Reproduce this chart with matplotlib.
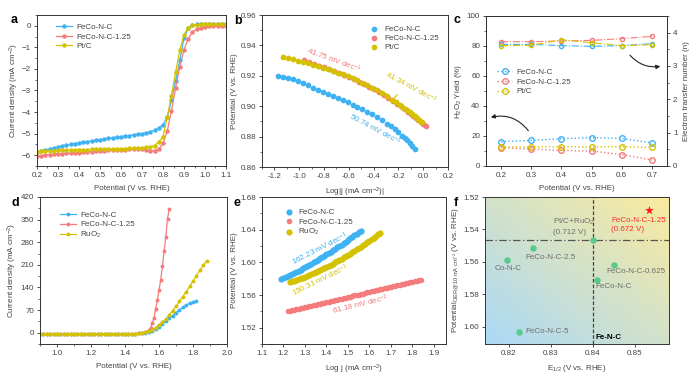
import numpy as np
import matplotlib
matplotlib.use("Agg")
import matplotlib.pyplot as plt
from matplotlib.patches import FancyArrowPatch
from matplotlib.ticker import MultipleLocator

plt.rcParams['font.family'] = ['Liberation Sans', 'DejaVu Sans']
FS = 5.8
plt.rcParams['font.size'] = FS
plt.rcParams['axes.linewidth'] = 0.7
plt.rcParams['mathtext.default'] = 'regular'

C_BLUE = '#3fb2f2'
C_RED = '#f47c7c'
C_YEL = '#d4c200'
C_LAB = '#444444'

# ---------------- panel a : ORR LSV ----------------
a_x = [0.20, 0.22, 0.24, 0.26, 0.28, 0.30, 0.32, 0.34, 0.36, 0.38, 0.40, 0.42, 0.44, 0.46, 0.48,
       0.50, 0.52, 0.54, 0.56, 0.58, 0.60, 0.62, 0.64, 0.66, 0.68, 0.70, 0.72, 0.74, 0.76, 0.78,
       0.80, 0.82, 0.84, 0.86, 0.88, 0.90, 0.92, 0.94, 0.96, 0.98, 1.00, 1.02, 1.04, 1.06, 1.08, 1.10]
a_feco = [-5.85, -5.80, -5.76, -5.72, -5.67, -5.62, -5.58, -5.54, -5.50, -5.46, -5.43, -5.40, -5.37, -5.34, -5.31,
          -5.28, -5.25, -5.22, -5.19, -5.17, -5.14, -5.12, -5.09, -5.06, -5.03, -5.00, -4.96, -4.91, -4.84, -4.74,
          -4.58, -4.25, -3.45, -2.55, -1.60, -0.55, -0.12, 0.02, 0.06, 0.08, 0.09, 0.10, 0.10, 0.10, 0.10, 0.10]
a_feco125 = [-6.05, -6.02, -6.00, -5.98, -5.96, -5.95, -5.93, -5.92, -5.90, -5.89, -5.88, -5.86, -5.85, -5.83, -5.82,
             -5.80, -5.79, -5.78, -5.77, -5.76, -5.75, -5.74, -5.73, -5.72, -5.71, -5.71, -5.74, -5.79, -5.80, -5.72,
             -5.45, -4.90, -3.95, -2.90, -1.90, -1.10, -0.60, -0.30, -0.16, -0.09, -0.05, -0.03, -0.02, -0.01, 0.00, 0.00]
a_ptc = [-5.83, -5.82, -5.81, -5.80, -5.79, -5.78, -5.77, -5.77, -5.76, -5.76, -5.75, -5.74, -5.74, -5.73, -5.73,
         -5.72, -5.72, -5.71, -5.71, -5.70, -5.70, -5.69, -5.68, -5.67, -5.66, -5.65, -5.64, -5.61, -5.55, -5.38,
         -5.15, -4.25, -3.25, -2.15, -1.13, -0.42, -0.08, 0.02, 0.05, 0.06, 0.06, 0.07, 0.07, 0.07, 0.07, 0.07]

# ---------------- panel b : ORR Tafel ----------------
b_feco_x = [-1.17, -1.13, -1.09, -1.05, -1.01, -0.97, -0.93, -0.89, -0.85, -0.81, -0.77, -0.73, -0.69, -0.65,
            -0.61, -0.57, -0.53, -0.49, -0.45, -0.41, -0.37, -0.33, -0.29, -0.26, -0.23, -0.20, -0.17, -0.15,
            -0.13, -0.11, -0.09, -0.07]
b_feco_y = [0.9200, 0.9192, 0.9185, 0.9177, 0.9169, 0.9154, 0.9139, 0.9123, 0.9108, 0.9093, 0.9079, 0.9066,
            0.9053, 0.9040, 0.9027, 0.9011, 0.8996, 0.8981, 0.8965, 0.8949, 0.8929, 0.8907, 0.8885, 0.8867,
            0.8848, 0.8828, 0.8806, 0.8791, 0.8775, 0.8757, 0.8738, 0.8718]
b_feco125_x = [-0.96, -0.92, -0.88, -0.84, -0.80, -0.76, -0.72, -0.68, -0.64, -0.60, -0.56, -0.52, -0.48, -0.44,
               -0.40, -0.36, -0.32, -0.28, -0.24, -0.21, -0.18, -0.15, -0.12, -0.10, -0.08, -0.06, -0.04, -0.02,
               0.00, 0.02]
b_feco125_y = [0.9302, 0.9291, 0.9279, 0.9267, 0.9255, 0.9243, 0.9230, 0.9217, 0.9204, 0.9190, 0.9176, 0.9161,
               0.9145, 0.9129, 0.9112, 0.9094, 0.9075, 0.9055, 0.9033, 0.9016, 0.8999, 0.8981, 0.8962, 0.8949,
               0.8935, 0.8921, 0.8907, 0.8893, 0.8880, 0.8868]
b_ptc_x = [-1.13, -1.09, -1.05, -1.01, -0.97, -0.93, -0.89, -0.85, -0.81, -0.77, -0.73, -0.69, -0.65, -0.61,
           -0.57, -0.53, -0.49, -0.45, -0.41, -0.37, -0.33, -0.29, -0.25, -0.22, -0.19, -0.16, -0.13, -0.11,
           -0.09, -0.07, -0.05, -0.03, -0.01]
b_ptc_y = [0.9324, 0.9316, 0.9308, 0.9300, 0.9292, 0.9283, 0.9273, 0.9263, 0.9253, 0.9242, 0.9231, 0.9220,
           0.9209, 0.9197, 0.9184, 0.9170, 0.9155, 0.9139, 0.9122, 0.9104, 0.9085, 0.9065, 0.9043, 0.9026,
           0.9009, 0.8991, 0.8972, 0.8959, 0.8946, 0.8933, 0.8920, 0.8907, 0.8895]

# ---------------- panel c : RRDE ----------------
c_x = [0.2, 0.3, 0.4, 0.5, 0.6, 0.7]
c_h2o2_feco = [16.2, 17.1, 18.2, 18.9, 18.4, 15.3]
c_h2o2_feco125 = [12.2, 11.3, 10.4, 10.0, 7.6, 4.0]
c_h2o2_ptc = [12.7, 12.7, 12.9, 12.7, 12.9, 12.4]
c_n_feco = [3.65, 3.65, 3.61, 3.59, 3.61, 3.67]
c_n_feco125 = [3.73, 3.73, 3.75, 3.77, 3.82, 3.89]
c_n_ptc = [3.61, 3.62, 3.79, 3.70, 3.61, 3.64]

# ---------------- panel d : OER LSV ----------------
d_flat_x = [0.90, 0.92, 0.94, 0.96, 0.98, 1.00, 1.02, 1.04, 1.06, 1.08, 1.10, 1.12, 1.14, 1.16, 1.18, 1.20,
            1.22, 1.24, 1.26, 1.28, 1.30, 1.32, 1.34, 1.36, 1.38, 1.40, 1.42, 1.44, 1.46, 1.48, 1.50]
d_flat_y = [-3, -3, -3, -3, -3, -3, -3, -3, -3, -3, -3, -3, -3, -3, -3, -3,
            -3, -3, -3, -3, -3, -3, -3, -3, -3, -3, -3, -3, -3, -2, -1]
d_feco_x = d_flat_x + [1.52, 1.54, 1.56, 1.58, 1.60, 1.62, 1.64, 1.66, 1.68, 1.70, 1.72, 1.74, 1.76, 1.78, 1.80, 1.82]
d_feco_y = d_flat_y + [0, 2, 6, 12, 19, 27, 35, 44, 53, 62, 70, 78, 85, 91, 95, 99]
d_feco125_x = d_flat_x + [1.52, 1.54, 1.55, 1.56, 1.57, 1.58, 1.59, 1.60, 1.61, 1.62, 1.63, 1.64, 1.65, 1.66]
d_feco125_y = d_flat_y + [2, 8, 15, 29, 46, 72, 101, 132, 163, 206, 252, 296, 353, 382]
d_ruo2_x = d_flat_x + [1.52, 1.54, 1.56, 1.58, 1.60, 1.62, 1.64, 1.66, 1.68, 1.70, 1.72, 1.74, 1.76, 1.78,
                       1.80, 1.82, 1.84, 1.86, 1.88]
d_ruo2_y = d_flat_y + [1, 4, 9, 16, 24, 33, 42, 55, 68, 82, 97, 112, 127, 143, 160, 176, 193, 208, 222]

# ---------------- panel e : OER Tafel ----------------
e_feco_x = [1.19, 1.20, 1.21, 1.22, 1.23, 1.24, 1.25, 1.26, 1.27, 1.28, 1.29, 1.30, 1.31, 1.32, 1.33, 1.34,
            1.35, 1.36, 1.37, 1.38, 1.39, 1.40, 1.41, 1.42, 1.43, 1.44, 1.45, 1.46, 1.47, 1.48, 1.49, 1.50,
            1.51, 1.52, 1.53, 1.54, 1.55, 1.56]
e_feco_y = [1.5790, 1.5803, 1.5815, 1.5828, 1.5842, 1.5855, 1.5869, 1.5882, 1.5896, 1.5911, 1.5925, 1.5940,
            1.5954, 1.5969, 1.5985, 1.6000, 1.6016, 1.6031, 1.6047, 1.6064, 1.6080, 1.6097, 1.6113, 1.6130,
            1.6148, 1.6165, 1.6183, 1.6200, 1.6218, 1.6237, 1.6255, 1.6274, 1.6292, 1.6311, 1.6331, 1.6350,
            1.6370, 1.6389]
e_feco125_x = [1.22, 1.23, 1.24, 1.25, 1.26, 1.27, 1.28, 1.29, 1.30, 1.31, 1.32, 1.33, 1.34, 1.35, 1.36, 1.37,
               1.38, 1.39, 1.40, 1.41, 1.42, 1.43, 1.44, 1.45, 1.46, 1.47, 1.48, 1.49, 1.50, 1.51, 1.52, 1.53,
               1.54, 1.55, 1.56, 1.57, 1.58, 1.59, 1.60, 1.61, 1.62, 1.63, 1.64, 1.65, 1.66, 1.67, 1.68, 1.69,
               1.70, 1.71, 1.72, 1.73, 1.74, 1.75, 1.76, 1.77, 1.78, 1.79, 1.80, 1.81, 1.82, 1.83, 1.84]
e_feco125_y = [1.5401, 1.5407, 1.5414, 1.5420, 1.5426, 1.5432, 1.5438, 1.5445, 1.5451, 1.5457, 1.5463, 1.5469,
               1.5476, 1.5482, 1.5488, 1.5494, 1.5500, 1.5507, 1.5513, 1.5519, 1.5525, 1.5532, 1.5538, 1.5544,
               1.5550, 1.5556, 1.5563, 1.5569, 1.5575, 1.5581, 1.5587, 1.5594, 1.5600, 1.5606, 1.5612, 1.5618,
               1.5625, 1.5631, 1.5637, 1.5643, 1.5650, 1.5656, 1.5662, 1.5668, 1.5674, 1.5681, 1.5687, 1.5693,
               1.5699, 1.5705, 1.5712, 1.5718, 1.5724, 1.5730, 1.5736, 1.5743, 1.5749, 1.5755, 1.5761, 1.5768,
               1.5774, 1.5780, 1.5786]
e_ruo2_x = [1.23, 1.24, 1.25, 1.26, 1.27, 1.28, 1.29, 1.30, 1.31, 1.32, 1.33, 1.34, 1.35, 1.36, 1.37, 1.38,
            1.39, 1.40, 1.41, 1.42, 1.43, 1.44, 1.45, 1.46, 1.47, 1.48, 1.49, 1.50, 1.51, 1.52, 1.53, 1.54,
            1.55, 1.56, 1.57, 1.58, 1.59, 1.60, 1.61, 1.62, 1.63, 1.64, 1.65]
e_ruo2_y = [1.5757, 1.5766, 1.5775, 1.5784, 1.5794, 1.5804, 1.5814, 1.5825, 1.5835, 1.5846, 1.5857, 1.5869,
            1.5881, 1.5893, 1.5905, 1.5918, 1.5931, 1.5944, 1.5958, 1.5971, 1.5985, 1.6000, 1.6014, 1.6029,
            1.6044, 1.6060, 1.6075, 1.6091, 1.6107, 1.6124, 1.6141, 1.6158, 1.6175, 1.6193, 1.6211, 1.6229,
            1.6247, 1.6266, 1.6285, 1.6304, 1.6324, 1.6344, 1.6363]

# ---------------- panel f : bifunctional map ----------------
f_names = ['Co-N-C', 'FeCo-N-C-2.5', 'FeCo-N-C-5', 'FeCo-N-C', 'FeCo-N-C-0.625']
f_e12 = [0.8195, 0.8257, 0.8225, 0.8410, 0.8451]
f_eoer = [1.5586, 1.5517, 1.6030, 1.5710, 1.5617]
f_best_e12 = 0.8533
f_best_eoer = 1.5282
f_ref_e12 = 0.840
f_ref_eoer = 1.5465

fig = plt.figure(figsize=(6.98, 3.86), dpi=100)
W, H = 698.0, 386.0


def add_ax(l, r, t, b):
    return fig.add_axes([l / W, 1 - b / H, (r - l) / W, (b - t) / H])


def style(ax):
    for s in ax.spines.values():
        s.set_color('#333333')
        s.set_linewidth(0.7)
    ax.tick_params(which='major', direction='out', length=2.5, width=0.6, colors='#333333',
                   labelsize=FS, pad=1.8, labelcolor=C_LAB)
    ax.tick_params(which='minor', direction='out', length=1.5, width=0.5, colors='#333333')


def letter(x, y, s):
    fig.text(x / W, 1 - y / H, s, fontsize=9, fontweight='bold', ha='left', va='center', color='black')


def labels(ax, xl, yl, ypad=2):
    ax.set_xlabel(xl, fontsize=FS, color=C_LAB, labelpad=4)
    ax.set_ylabel(yl, fontsize=FS, color=C_LAB, labelpad=ypad)


# ===== a =====
ax = add_ax(37, 226, 15, 166)
style(ax)
ax.plot(a_x, a_feco, '-o', color=C_BLUE, ms=2.2, lw=0.9, label='FeCo-N-C')
ax.plot(a_x, a_feco125, '-o', color=C_RED, ms=2.2, lw=0.9, label='FeCo-N-C-1.25')
ax.plot(a_x, a_ptc, '-o', color=C_YEL, ms=2.2, lw=0.9, label='Pt/C')
ax.set_xlim(0.2, 1.1)
ax.set_ylim(-6.5, 0.5)
ax.set_xticks([0.2, 0.3, 0.4, 0.5, 0.6, 0.7, 0.8, 0.9, 1.0, 1.1])
ax.set_xticklabels(['0.2', '0.3', '0.4', '0.5', '0.6', '0.7', '0.8', '0.9', '1.0', '1.1'])
ax.xaxis.set_minor_locator(MultipleLocator(0.05))
ax.yaxis.set_major_locator(MultipleLocator(1))
ax.yaxis.set_minor_locator(MultipleLocator(0.5))
labels(ax, 'Potential (V vs. RHE)', 'Current density (mA cm$^{-2}$)', 1)
ax.legend(loc='upper left', bbox_to_anchor=(0.07, 0.98), frameon=False, fontsize=FS,
          handlelength=2.0, handletextpad=0.5, labelspacing=0.2, borderaxespad=0.3, labelcolor=C_LAB)
letter(11, 20, 'a')

# ===== b =====
ax = add_ax(262, 448, 15, 167)
style(ax)
ax.scatter(b_feco_x, b_feco_y, s=17, color=C_BLUE, lw=0, label='FeCo-N-C', zorder=3)
ax.scatter(b_feco125_x, b_feco125_y, s=17, color=C_RED, lw=0, label='FeCo-N-C-1.25', zorder=3)
ax.scatter(b_ptc_x, b_ptc_y, s=17, color=C_YEL, lw=0, label='Pt/C', zorder=4)
ax.set_xlim(-1.3, 0.2)
ax.set_ylim(0.86, 0.96)
ax.set_xticks([-1.2, -1.0, -0.8, -0.6, -0.4, -0.2, 0.0, 0.2])
ax.set_xticklabels(['-1.2', '-1.0', '-0.8', '-0.6', '-0.4', '-0.2', '0.0', '0.2'])
ax.xaxis.set_minor_locator(MultipleLocator(0.1))
ax.set_yticks([0.86, 0.88, 0.90, 0.92, 0.94, 0.96])
ax.set_yticklabels(['0.86', '0.88', '0.90', '0.92', '0.94', '0.96'])
ax.yaxis.set_minor_locator(MultipleLocator(0.01))
labels(ax, 'Log|j (mA cm$^{-2}$)|', 'Potential (V vs. RHE)', 2)
ax.legend(loc='upper right', bbox_to_anchor=(0.99, 0.98), frameon=False, fontsize=FS, handletextpad=0.4,
          labelspacing=0.2, markerscale=1.0, labelcolor=C_LAB, handlelength=1.6)
ax.text(-0.72, 0.9300, '41.75 mV dec$^{-1}$', color=C_RED, fontsize=FS, rotation=-20,
        ha='center', va='center', rotation_mode='anchor')
ax.text(-0.10, 0.9125, '41.34 mV dec$^{-1}$', color=C_YEL, fontsize=FS, rotation=-28,
        ha='center', va='center', rotation_mode='anchor')
ax.plot([-0.21, -0.245], [0.9075, 0.9045], color=C_YEL, lw=0.8)
ax.text(-0.39, 0.8848, '50.74 mV dec$^{-1}$', color=C_BLUE, fontsize=FS, rotation=-28,
        ha='center', va='center', rotation_mode='anchor')
letter(234, 21, 'b')

# ===== c =====
ax = add_ax(486, 667, 16, 166)
style(ax)
ax2 = ax.twinx()
style(ax2)
ms = 4
ax.plot(c_x, c_h2o2_feco, ':o', color=C_BLUE, ms=ms, mfc='none', mew=1.0, lw=1.0, label='FeCo-N-C')
ax.plot(c_x, c_h2o2_feco125, ':o', color=C_RED, ms=ms, mfc='none', mew=1.0, lw=1.0, label='FeCo-N-C-1.25')
ax.plot(c_x, c_h2o2_ptc, ':o', color=C_YEL, ms=ms, mfc='none', mew=1.0, lw=1.0, label='Pt/C')
ax2.plot(c_x, c_n_feco, '-.o', color=C_BLUE, ms=3, mfc='none', mew=1.0, lw=0.8)
ax2.plot(c_x, c_n_feco125, '-.o', color=C_RED, ms=3, mfc='none', mew=1.0, lw=0.8)
ax2.plot(c_x, c_n_ptc, '-.o', color=C_YEL, ms=3, mfc='none', mew=1.0, lw=0.8)
ax.set_xlim(0.15, 0.75)
ax.set_ylim(0, 100)
ax2.set_ylim(0, 4.5)
ax.set_xticks(c_x)
ax.set_xticklabels(['0.2', '0.3', '0.4', '0.5', '0.6', '0.7'])
ax.yaxis.set_major_locator(MultipleLocator(20))
ax.yaxis.set_minor_locator(MultipleLocator(10))
ax2.yaxis.set_major_locator(MultipleLocator(1))
ax2.yaxis.set_minor_locator(MultipleLocator(0.5))
labels(ax, 'Potential (V vs. RHE)', 'H$_2$O$_2$ Yield (%)', 2)
ax2.set_ylabel('Electron transfer number (n)', fontsize=FS, color=C_LAB, labelpad=4)
ax.legend(loc='center left', bbox_to_anchor=(0.02, 0.56), frameon=False, fontsize=FS, handlelength=1.9,
          handletextpad=0.5, labelspacing=0.25, labelcolor=C_LAB)
arr1 = FancyArrowPatch((0.296, 22), (0.157, 32), connectionstyle='arc3,rad=0.35', arrowstyle='-|>',
                       mutation_scale=6, color='#222222', lw=0.8)
ax.add_patch(arr1)
arr2 = FancyArrowPatch((0.621, 75.3), (0.737, 66.7), connectionstyle='arc3,rad=0.3', arrowstyle='-|>',
                       mutation_scale=6, color='#222222', lw=0.8)
ax.add_patch(arr2)
letter(454, 20, 'c')

# ===== d =====
ax = add_ax(40, 227, 197, 344)
style(ax)
ax.plot(d_feco_x, d_feco_y, '-o', color=C_BLUE, ms=1.8, lw=0.9, label='FeCo-N-C')
ax.plot(d_feco125_x, d_feco125_y, '-o', color=C_RED, ms=1.8, lw=0.9, label='FeCo-N-C-1.25')
ax.plot(d_ruo2_x, d_ruo2_y, '-o', color=C_YEL, ms=1.8, lw=0.9, label='RuO$_2$')
ax.set_xlim(0.9, 2.0)
ax.set_ylim(-35, 420)
ax.set_xticks([1.0, 1.2, 1.4, 1.6, 1.8, 2.0])
ax.set_xticklabels(['1.0', '1.2', '1.4', '1.6', '1.8', '2.0'])
ax.xaxis.set_minor_locator(MultipleLocator(0.1))
ax.yaxis.set_major_locator(MultipleLocator(70))
ax.yaxis.set_minor_locator(MultipleLocator(35))
labels(ax, 'Potential (V vs. RHE)', 'Current density (mA cm$^{-2}$)', 1)
ax.legend(loc='upper left', bbox_to_anchor=(0.07, 0.95), frameon=False, fontsize=FS,
          handlelength=2.0, handletextpad=0.5, labelspacing=0.2, labelcolor=C_LAB)
letter(11, 203, 'd')

# ===== e =====
ax = add_ax(262, 446, 197, 344)
style(ax)
ax.scatter(e_feco_x, e_feco_y, s=20, color=C_BLUE, lw=0, label='FeCo-N-C', zorder=3)
ax.scatter(e_feco125_x, e_feco125_y, s=16, color=C_RED, lw=0, label='FeCo-N-C-1.25', zorder=3)
ax.scatter(e_ruo2_x, e_ruo2_y, s=20, color=C_YEL, lw=0, label='RuO$_2$', zorder=3)
ax.set_xlim(1.1, 1.956)
ax.set_ylim(1.50, 1.68)
ax.set_xticks([1.1, 1.2, 1.3, 1.4, 1.5, 1.6, 1.7, 1.8, 1.9])
ax.set_xticklabels(['1.1', '1.2', '1.3', '1.4', '1.5', '1.6', '1.7', '1.8', '1.9'])
ax.set_yticks([1.52, 1.56, 1.60, 1.64, 1.68])
ax.set_yticklabels(['1.52', '1.56', '1.60', '1.64', '1.68'])
ax.yaxis.set_minor_locator(MultipleLocator(0.02))
labels(ax, 'Log j (mA cm$^{-2}$)', 'Potential (V vs. RHE)', 2)
ax.legend(loc='upper left', bbox_to_anchor=(0.07, 0.97), frameon=False, fontsize=FS, handletextpad=0.4,
          labelspacing=0.2, markerscale=1.0, labelcolor=C_LAB, handlelength=1.6)
ax.text(1.370, 1.6163, '162.23 mV dec$^{-1}$', color=C_BLUE, fontsize=FS, rotation=27,
        ha='center', va='center', rotation_mode='anchor')
ax.text(1.373, 1.5784, '150.31 mV dec$^{-1}$', color=C_YEL, fontsize=FS, rotation=26,
        ha='center', va='center', rotation_mode='anchor')
ax.text(1.559, 1.5478, '61.18 mV dec$^{-1}$', color=C_RED, fontsize=FS, rotation=14,
        ha='center', va='center', rotation_mode='anchor')
letter(234, 203, 'e')

# ===== f =====
ax = add_ax(485, 669, 197, 344)
style(ax)
n = 200
u = np.linspace(0, 1, n)
U, V = np.meshgrid(u, u)
t = np.clip((U + V) / 2.0, 0, 1)[..., None]
blue = np.array([0.67, 0.85, 0.97])
yellow = np.array([0.98, 0.92, 0.62])
img = blue * (1 - t) + yellow * t
ax.imshow(img, extent=[0, 1, 0, 1], transform=ax.transAxes, origin='lower', aspect='auto', zorder=0)
ax.set_xlim(0.8143, 0.8581)
ax.set_ylim(1.6107, 1.52)
ax.axhline(f_ref_eoer, color='#555555', lw=0.9, ls=(0, (6, 2, 1, 2)), zorder=1)
ax.axvline(f_ref_e12, color='#444444', lw=0.9, ls=(0, (3, 1.5)), zorder=1)
ax.scatter(f_e12, f_eoer, s=22, color='#5cc98c', lw=0, zorder=3)
ax.scatter([f_ref_e12], [f_ref_eoer], s=22, color='#5cc98c', lw=0, zorder=3)
ax.scatter([f_best_e12], [f_best_eoer], s=45, marker='*', color='#ff1a1a', lw=0, zorder=3)
ax.set_xticks([0.82, 0.83, 0.84, 0.85])
ax.set_xticklabels(['0.82', '0.83', '0.84', '0.85'])
ax.set_yticks([1.52, 1.54, 1.56, 1.58, 1.60])
ax.set_yticklabels(['1.52', '1.54', '1.56', '1.58', '1.60'])
gcol = '#6e6e6e'
ax.text(0.8304, 1.5356, 'Pt/C+RuO$_2$', color=gcol, fontsize=FS, ha='left', va='center')
ax.text(0.8304, 1.5418, '(0.712 V)', color=gcol, fontsize=FS, ha='left', va='center')
ax.text(0.8444, 1.5344, 'FeCo-N-C-1.25', color='#ff2a2a', fontsize=FS, ha='left', va='center')
ax.text(0.8444, 1.5401, '(0.672 V)', color='#ff2a2a', fontsize=FS, ha='left', va='center')
ax.text(0.8238, 1.5572, 'FeCo-N-C-2.5', color=gcol, fontsize=FS, ha='left', va='center')
ax.text(0.8167, 1.5642, 'Co-N-C', color=gcol, fontsize=FS, ha='left', va='center')
ax.text(0.8433, 1.5658, 'FeCo-N-C-0.625', color=gcol, fontsize=FS, ha='left', va='center')
ax.text(0.8405, 1.5755, 'FeCo-N-C', color=gcol, fontsize=FS, ha='left', va='center')
ax.text(0.8238, 1.6030, 'FeCo-N-C-5', color=gcol, fontsize=FS, ha='left', va='center')
ax.text(0.8405, 1.6066, 'Fe-N-C', color='black', fontsize=FS, fontweight='bold', ha='left', va='center')
labels(ax, 'E$_{1/2}$ (V vs. RHE)', 'Potential$_{OER@10\\ mA\\ cm^{-2}}$ (V vs. RHE)', 2)
letter(454, 203, 'f')

fig.savefig('out.png', dpi=100)
